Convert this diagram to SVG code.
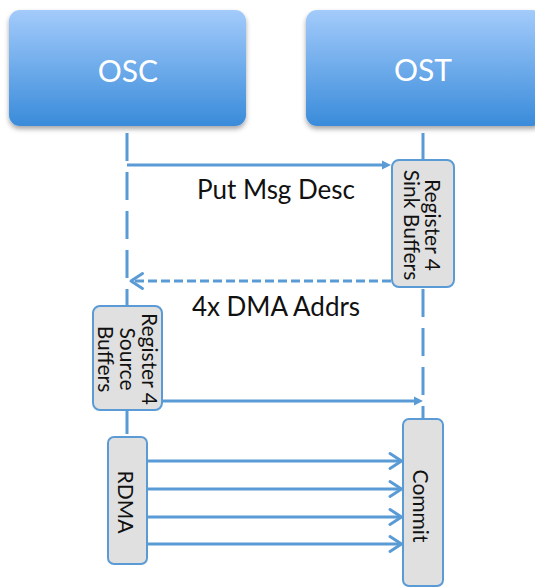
<svg xmlns="http://www.w3.org/2000/svg" width="535" height="587" viewBox="0 0 535 587">
  <defs>
    <linearGradient id="hdrFill" x1="0" y1="0" x2="0" y2="1">
      <stop offset="0" stop-color="#a3cbfb"/>
      <stop offset="1" stop-color="#398bda"/>
    </linearGradient>
    <filter id="hdrShadow" x="-10%" y="-10%" width="120%" height="130%">
      <feDropShadow dx="0" dy="3" stdDeviation="2.5" flood-color="#000" flood-opacity="0.35"/>
    </filter>
    <marker id="solidHead" markerUnits="userSpaceOnUse" markerWidth="10" markerHeight="10" refX="3" refY="5" orient="auto" overflow="visible">
      <path d="M0,0.5 L9,5 L0,9.5 z" fill="#5b9bd5"/>
    </marker>
    <marker id="openHead" markerUnits="userSpaceOnUse" markerWidth="14" markerHeight="16" refX="12.5" refY="8" orient="auto" overflow="visible">
      <path d="M1,0.5 L12.5,8 L1,15.5" fill="none" stroke="#5b9bd5" stroke-width="3" stroke-linecap="round" stroke-linejoin="round"/>
    </marker>
  </defs>
  <style>
    .hdr { fill: url(#hdrFill); filter: url(#hdrShadow); }
    .hdrText { font-family: Lato, "Liberation Sans", sans-serif; font-size: 30px; fill: #ffffff; text-anchor: middle; }
    .act { fill: #e0e0e0; stroke: #5b9bd5; stroke-width: 2; }
    .actText { font-family: Lato, "Liberation Sans", sans-serif; font-size: 21px; fill: #111111; text-anchor: middle; }
    .label { font-family: Lato, "Liberation Sans", sans-serif; font-size: 26px; fill: #111111; text-anchor: middle; }
    .life { stroke: #5b9bd5; stroke-width: 3; fill: none; stroke-dasharray: 28 11; }
    .msg { stroke: #5b9bd5; stroke-width: 3; fill: none; }
    .msgDash { stroke: #5b9bd5; stroke-width: 3; fill: none; stroke-dasharray: 9 4; }
  </style>

  <!-- lifelines -->
  <g id="lifelines">
    <line class="life" x1="127" y1="133" x2="127" y2="437"/>
    <line class="life" x1="423" y1="133" x2="423" y2="419"/>
  </g>

  <!-- participants -->
  <g id="osc">
    <rect class="hdr" x="9" y="10" width="237" height="116" rx="11"/>
    <text class="hdrText" x="128" y="82">OSC</text>
  </g>
  <g id="ost">
    <rect class="hdr" x="306" y="10" width="237" height="116" rx="11"/>
    <text class="hdrText" x="423" y="81">OST</text>
  </g>

  <!-- messages -->
  <g id="connectors">
    <line class="msg" x1="127" y1="165" x2="385" y2="165" marker-end="url(#solidHead)"/>
    <line class="msgDash" x1="391" y1="281" x2="131" y2="281" marker-end="url(#openHead)"/>
    <line class="msg" x1="162" y1="401" x2="417" y2="401" marker-end="url(#solidHead)"/>
    <line class="msg" x1="147" y1="461" x2="401.5" y2="461" marker-end="url(#openHead)"/>
    <line class="msg" x1="147" y1="489" x2="401.5" y2="489" marker-end="url(#openHead)"/>
    <line class="msg" x1="147" y1="517" x2="401.5" y2="517" marker-end="url(#openHead)"/>
    <line class="msg" x1="147" y1="544" x2="401.5" y2="544" marker-end="url(#openHead)"/>
  </g>

  <!-- message labels -->
  <g id="labels">
    <text class="label" x="276" y="199">Put Msg Desc</text>
    <text class="label" x="276" y="316">4x DMA Addrs</text>
  </g>

  <!-- activation boxes -->
  <g id="sinkBuffers">
    <rect class="act" x="392" y="160" width="62" height="127" rx="7"/>
    <text class="actText" transform="translate(425,225) rotate(90)">Register 4</text>
    <text class="actText" transform="translate(404,225) rotate(90)">Sink Buffers</text>
  </g>
  <g id="sourceBuffers">
    <rect class="act" x="93" y="306" width="69" height="104" rx="7"/>
    <text class="actText" transform="translate(142,359) rotate(90)">Register 4</text>
    <text class="actText" transform="translate(120,359) rotate(90)">Source</text>
    <text class="actText" transform="translate(98,359) rotate(90)">Buffers</text>
  </g>
  <g id="rdma">
    <rect class="act" x="108" y="437" width="39" height="127" rx="6"/>
    <text class="actText" transform="translate(118,502) rotate(90)">RDMA</text>
  </g>
  <g id="commit">
    <rect class="act" x="403" y="419" width="40" height="167" rx="6"/>
    <text class="actText" transform="translate(413,506) rotate(90)">Commit</text>
  </g>
</svg>
